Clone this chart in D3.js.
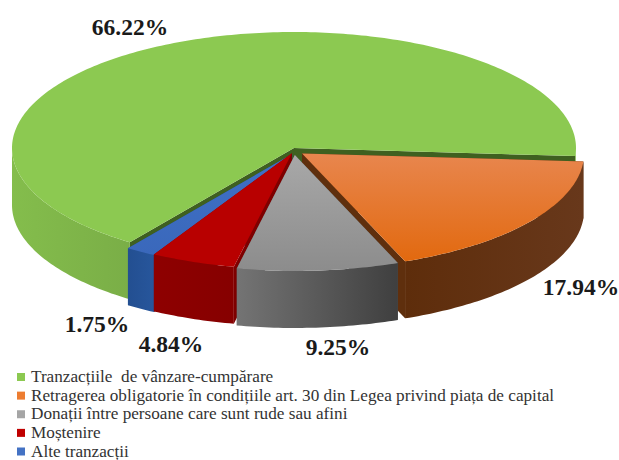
<!DOCTYPE html>
<html>

<head>
  <meta charset="utf-8">
  <title>Tranzactii</title>
  <script src="https://cdn.jsdelivr.net/npm/d3@7"></script>
  <style>
    html, body { margin: 0; background: #fff; }
    svg { display: block; }
    text { font-family: "Liberation Serif", serif; }
    .val { font-size: 23.5px; font-weight: bold; fill: #1a1a1a; text-anchor: middle; }
    .leg { font-size: 17.2px; fill: #333; }
  </style>
</head>

<body>
  <svg class="chart" width="619" height="460"></svg>
</body>
<script>
  //1. Data
  var categories = [
    "Tranzacțiile  de vânzare-cumpărare",
    "Retragerea obligatorie în condițiile art. 30 din Legea privind piața de capital",
    "Donații între persoane care sunt rude sau afini",
    "Moștenire",
    "Alte tranzacții"
  ];
  var values = [66.22, 17.94, 9.25, 4.84, 1.75];
  var valueLabels = ["66.22%", "17.94%", "9.25%", "4.84%", "1.75%"];
  var labelX = [130, 581, 338, 171, 97];
  var labelY = [35, 295, 355, 352, 332];
  var explodeXs = [0, 1, 1, 0.6, 0.35];
  var explodeYs = [0, 1.3, 1, 0.8, 1];
  var topLight = ["#8cc951", "#e8864e", "#a8a8a8", "#b80000", "#3f70c6"];
  var topDark = ["#8cc951", "#e2690f", "#8c8c8c", "#b80000", "#3a68bb"];
  var wallLeft = ["#84bd4c", "#5e2d0b", "#747474", "#8e0000", "#234f91"];
  var wallRight = ["#7aae47", "#68381b", "#3f3f3f", "#860000", "#27569c"];
  var cutColor = ["#3f6020", "#5f2f0d", "#555555", "#7e0000", "#234f91"];
  var legendColor = ["#8cc951", "#ed7d31", "#a5a5a5", "#c00000", "#4472c4"];

  //2. Properties
  var cx = 294, cy = 148, rx = 282, ry = 116, depth = 57;
  var explodeX = 10, explodeY = 7;
  var start = 215.6 * Math.PI / 180;
  var paintOrder = [0, 1, 4, 3, 2];

  //3. Scales (unit circle to the tilted ellipse)
  var x = d3.scaleLinear().domain([-1, 1]).range([cx - rx, cx + rx]);
  var y = d3.scaleLinear().domain([-1, 1]).range([cy - ry, cy + ry]);

  var arcs = d3.pie().sort(null).startAngle(start).endAngle(start + 2 * Math.PI)(values);

  var svg = d3.select(".chart");
  var defs = svg.append("defs");
  var line = d3.line().x(function(p) { return p[0]; }).y(function(p) { return p[1]; });

  function rim(a0, a1) {
    var n = Math.max(2, Math.ceil((a1 - a0) * 60));
    return d3.range(n + 1).map(function(i) {
      var a = a0 + (a1 - a0) * i / n;
      return [x(Math.sin(a)), y(-Math.cos(a))];
    });
  }

  function down(points) {
    return points.map(function(p) { return [p[0], p[1] + depth]; });
  }

  //4. Gradients
  arcs.forEach(function(d, i) {
    var t = defs.append("linearGradient").attr("id", "top" + i)
      .attr("x1", 0).attr("y1", 0).attr("x2", 0).attr("y2", 1);
    t.append("stop").attr("offset", "0%").attr("stop-color", topLight[i]);
    t.append("stop").attr("offset", "100%").attr("stop-color", topDark[i]);
    var w = defs.append("linearGradient").attr("id", "wall" + i)
      .attr("x1", 0).attr("y1", 0).attr("x2", 1).attr("y2", 0);
    w.append("stop").attr("offset", "0%").attr("stop-color", wallLeft[i]);
    w.append("stop").attr("offset", "100%").attr("stop-color", wallRight[i]);
  });

  //5. Slices, back to front
  paintOrder.forEach(function(i) {
    var d = arcs[i];
    var mid = (d.startAngle + d.endAngle) / 2;
    var g = svg.append("g").attr("transform", "translate(" +
      (Math.sin(mid) * explodeX * explodeXs[i]) + "," +
      (-Math.cos(mid) * explodeY * explodeYs[i]) + ")");

    var edge = rim(d.startAngle, d.endAngle);
    var apex = [x(0), y(0)];

    // cut faces
    [edge[0], edge[edge.length - 1]].forEach(function(p) {
      var quad = [apex, p, [p[0], p[1] + depth], [apex[0], apex[1] + depth]];
      g.append("path").attr("d", line(quad) + "Z").attr("fill", cutColor[i]);
    });

    // outer wall, only the part turned to the viewer
    var turns = [[Math.PI / 2, 3 * Math.PI / 2], [5 * Math.PI / 2, 7 * Math.PI / 2]];
    turns.forEach(function(r) {
      var a0 = Math.max(d.startAngle, r[0]), a1 = Math.min(d.endAngle, r[1]);
      if (a1 <= a0) return;
      var front = rim(a0, a1);
      g.append("path")
        .attr("d", line(front.concat(down(front).reverse())) + "Z")
        .attr("fill", "url(#wall" + i + ")");
    });

    // top face
    g.append("path")
      .attr("d", line([apex].concat(edge)) + "Z")
      .attr("fill", "url(#top" + i + ")");
  });

  //6. Value labels
  svg.selectAll(".val").data(valueLabels).enter().append("text")
    .attr("class", "val")
    .attr("x", function(d, i) { return labelX[i]; })
    .attr("y", function(d, i) { return labelY[i]; })
    .text(function(d) { return d; });

  //7. Legend
  var legendY = d3.scalePoint().domain(categories).range([377, 451.5]);
  var legend = svg.selectAll(".item").data(categories).enter().append("g")
    .attr("class", "item")
    .attr("transform", function(d) { return "translate(17," + legendY(d) + ")"; });
  legend.append("rect")
    .attr("y", -4).attr("width", 8).attr("height", 8)
    .attr("fill", function(d, i) { return legendColor[i]; });
  legend.append("text")
    .attr("class", "leg")
    .attr("x", 14).attr("y", 5)
    .attr("xml:space", "preserve")
    .style("white-space", "pre")
    .text(function(d) { return d; });
</script>

</html>
